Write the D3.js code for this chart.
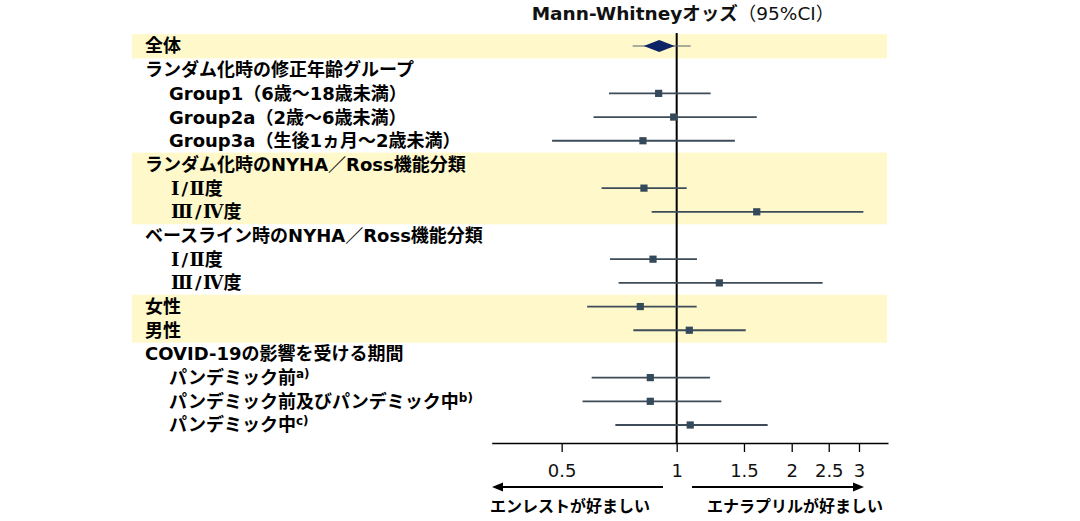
<!DOCTYPE html>
<html><head><meta charset="utf-8">
<script src="https://cdn.jsdelivr.net/npm/d3@7"></script>
<style>
html,body{margin:0;padding:0;background:#fff;}
svg{display:block;}
text{font-family:"DejaVu Sans","Noto Sans CJK JP",sans-serif;}
</style></head><body>
<svg id="chart" width="1080" height="521"></svg>
<script>
const labels = [
  "全体",
  "ランダム化時の修正年齢グループ",
  "Group1（6歳～18歳未満）",
  "Group2a（2歳～6歳未満）",
  "Group3a（生後1ヵ月～2歳未満）",
  "ランダム化時のNYHA／Ross機能分類",
  "Ⅰ/Ⅱ度",
  "Ⅲ/Ⅳ度",
  "ベースライン時のNYHA／Ross機能分類",
  "Ⅰ/Ⅱ度",
  "Ⅲ/Ⅳ度",
  "女性",
  "男性",
  "COVID-19の影響を受ける期間",
  "パンデミック前",
  "パンデミック前及びパンデミック中",
  "パンデミック中"
];
const superscripts = [null,null,null,null,null,null,null,null,null,null,null,null,null,null,"a)","b)","c)"];
const indent = [0,0,1,1,1,0,2,2,0,2,2,0,0,0,1,1,1];
const highlighted = [1,0,0,0,0,1,1,1,0,0,0,1,1,0,0,0,0];
const estimate = [0.90,null,0.897,0.982,0.816,null,0.821,1.62,null,0.867,1.293,0.803,1.079,null,0.853,0.853,1.085];
const lower    = [0.767,null,0.665,0.606,0.472,null,0.636,0.86,null,0.669,0.705,0.583,0.770,null,0.599,0.567,0.691];
const upper    = [1.088,null,1.227,1.62,1.42,null,1.062,3.08,null,1.13,2.41,1.128,1.516,null,1.222,1.309,1.73];
const tickValues = [0.5,1,1.5,2,2.5,3];
const tickLabels = ["0.5","1","1.5","2","2.5","3"];
const titleBold = "Mann-Whitneyオッズ";
const titleNormal = "（95%CI）";
const leftFavors = "エンレストが好ましい";
const rightFavors = "エナラプリルが好ましい";

const svg = d3.select("#chart");
const x = d3.scaleLog().domain([0.328, 3.573]).range([491.7, 888]);
const y = d3.scaleLinear().domain([0, labels.length - 1]).range([46, 425]);
const step = y(1) - y(0);
const axisY = 443;

// highlight bands
labels.forEach((l, i) => {
  if (highlighted[i]) {
    svg.append("rect").attr("x", 132).attr("width", 887 - 132)
      .attr("y", y(i) - step / 2).attr("height", step + 0.6)
      .attr("fill", "#fef8cb");
  }
});

// title
const title = svg.append("text").attr("x", 683).attr("y", 20).attr("text-anchor", "middle")
  .attr("font-size", 18.5).attr("fill", "#111");
title.append("tspan").attr("font-weight", "bold").text(titleBold);
title.append("tspan").attr("font-weight", "normal").text(titleNormal);

// labels
const indentX = [145, 169, 171];
const romanRe = /^([ⅠⅡⅢⅣ])(\/)([ⅠⅡⅢⅣ])/;
labels.forEach((l, i) => {
  const t = svg.append("text").attr("x", indentX[indent[i]]).attr("y", y(i)).attr("dy", "0.36em")
    .attr("font-size", 18).attr("font-weight", "bold").attr("fill", "#000");
  const m = l.match(romanRe);
  if (m) {
    const serif = "'DejaVu Serif','Liberation Serif',serif";
    t.append("tspan").style("font-family", serif).text(m[1]);
    t.append("tspan").attr("dx", 2).text(m[2]);
    t.append("tspan").attr("dx", 1.5).style("font-family", serif).text(m[3]);
    t.append("tspan").text(l.slice(m[0].length));
  } else {
    t.text(l);
  }
  if (superscripts[i]) {
    t.append("tspan").attr("font-size", 12).attr("dy", "-0.5em").text(superscripts[i]);
  }
});

// axis
const axis = d3.axisBottom(x).tickValues(tickValues).tickFormat((d, i) => tickLabels[i])
  .tickSize(9).tickSizeOuter(0).tickPadding(12);
const ag = svg.append("g").attr("transform", `translate(0,${axisY})`).call(axis);
ag.select(".domain").attr("stroke", "#000").attr("stroke-width", 1.6);
ag.selectAll(".tick line").attr("stroke", "#000").attr("stroke-width", 1.3);
ag.selectAll(".tick text").attr("font-size", 18).attr("fill", "#111")
  .style("font-family", "'DejaVu Sans',sans-serif");

// reference line
svg.append("line").attr("x1", x(1)).attr("x2", x(1)).attr("y1", 33).attr("y2", axisY)
  .attr("stroke", "#000").attr("stroke-width", 2);

// CI lines
const rows = labels.map((l, i) => ({i, est: estimate[i], lo: lower[i], hi: upper[i]})).filter(d => d.est != null);
svg.selectAll("line.ci").data(rows).enter().append("line").attr("class", "ci")
  .attr("x1", d => x(d.lo)).attr("x2", d => x(d.hi))
  .attr("y1", d => y(d.i)).attr("y2", d => y(d.i))
  .attr("stroke", d => d.i === 0 ? "#56606a" : "#3d4c58").attr("stroke-width", d => d.i === 0 ? 1.2 : 1.8);

// markers
rows.forEach(d => {
  if (d.i === 0) {
    const cx = x(d.est), cy = y(d.i);
    svg.append("path").attr("d", `M${cx-15.5},${cy} L${cx},${cy-6} L${cx+15.5},${cy} L${cx},${cy+6} Z`)
      .attr("fill", "#0b2466");
  } else {
    svg.append("rect").attr("x", x(d.est) - 3.6).attr("y", y(d.i) - 3.6)
      .attr("width", 7.2).attr("height", 7.2).attr("fill", "#34495a");
  }
});

// arrows
const arrowY = 487;
function arrow(x1, x2) {
  const dir = Math.sign(x2 - x1);
  svg.append("line").attr("x1", x1).attr("x2", x2 - dir * 8).attr("y1", arrowY).attr("y2", arrowY)
    .attr("stroke", "#000").attr("stroke-width", 1.8);
  svg.append("path").attr("d", `M${x2},${arrowY} L${x2 - dir*11},${arrowY-4.5} L${x2 - dir*11},${arrowY+4.5} Z`).attr("fill", "#000");
}
arrow(663, 492);
arrow(692, 864);

svg.append("text").attr("x", 490).attr("y", 506).attr("dy", "0.36em").attr("font-size", 16)
  .attr("font-weight", "bold").text(leftFavors);
svg.append("text").attr("x", 707).attr("y", 506).attr("dy", "0.36em").attr("font-size", 16)
  .attr("font-weight", "bold").text(rightFavors);
</script>
</body></html>
